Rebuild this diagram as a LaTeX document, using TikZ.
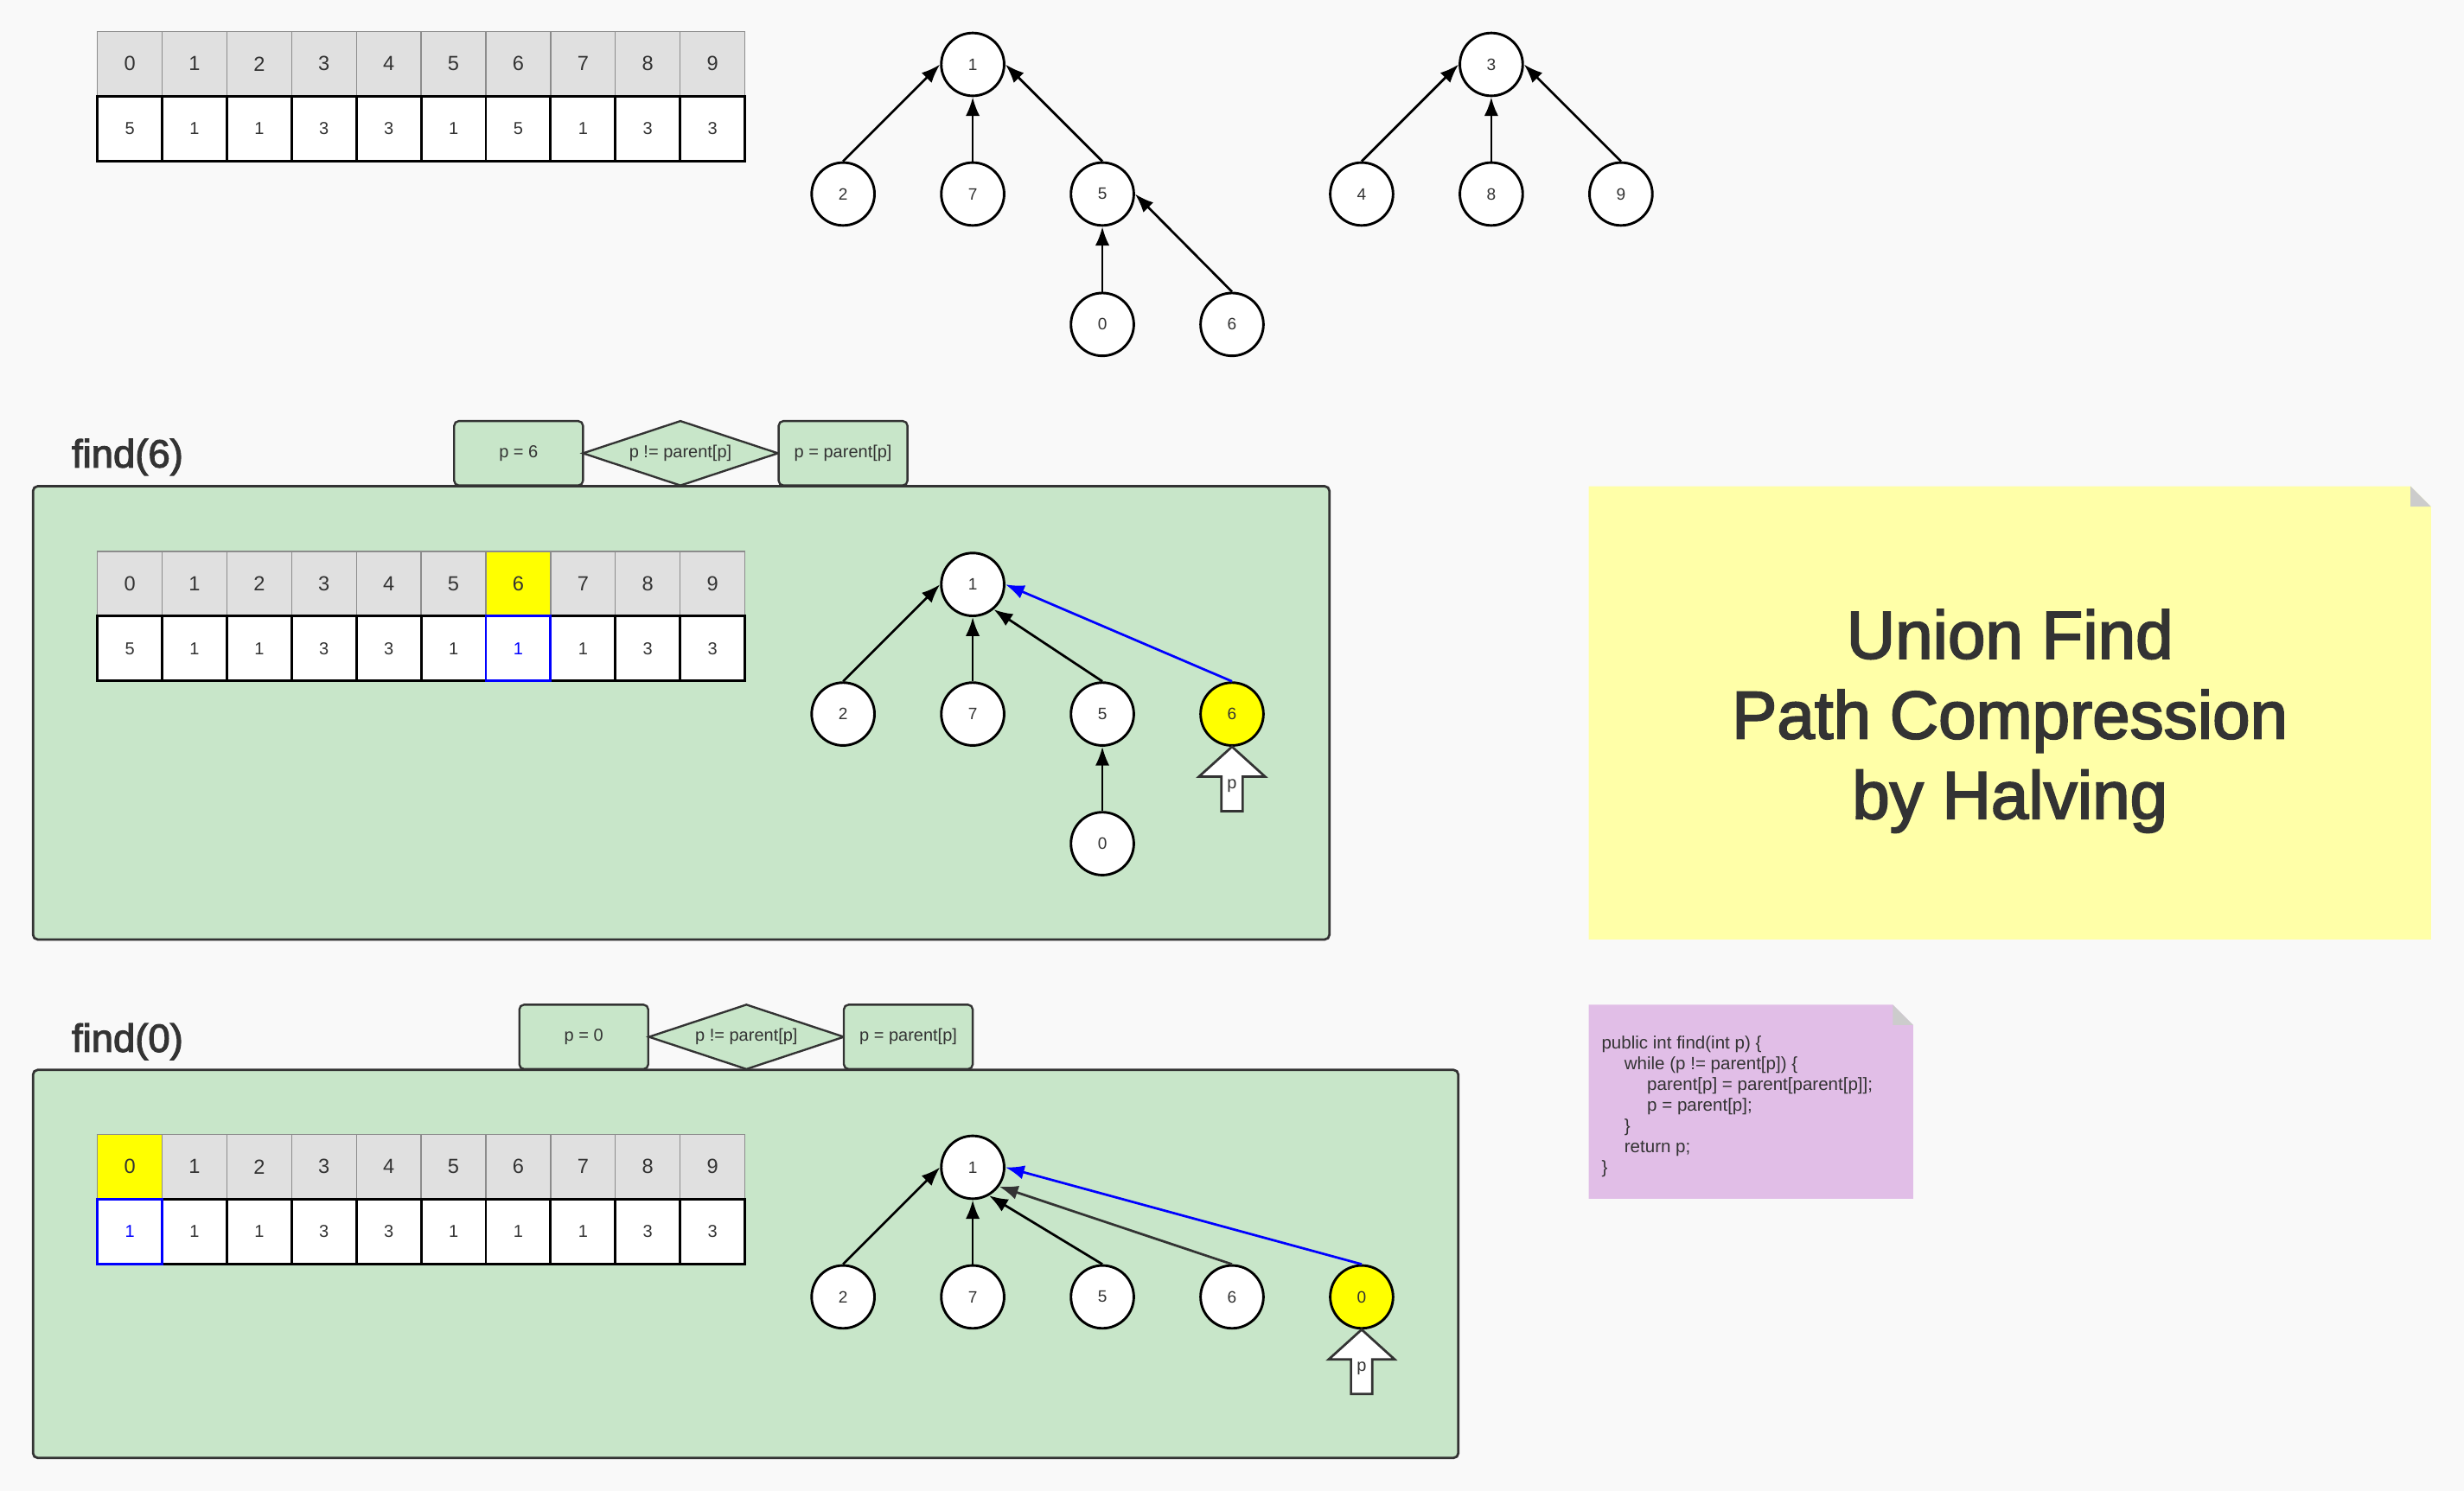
\documentclass[tikz,border=0pt]{standalone}
\usepackage{fontspec}
\setmainfont{Liberation Sans}
\newfontfamily\heavyfont{Liberation Sans}[UprightFeatures={FakeBold=2.5}]
\usetikzlibrary{arrows.meta,shapes.geometric,calc}
\definecolor{bgc}{HTML}{F9F9F9}
\definecolor{txt}{HTML}{333333}
\definecolor{hdr}{HTML}{E0E0E0}
\definecolor{hdrline}{HTML}{8C8C8C}
\definecolor{grn}{HTML}{C8E6C9}
\definecolor{note}{HTML}{FFFFA8}
\definecolor{notep}{HTML}{E1BEE7}
\definecolor{fold}{HTML}{CCCCCC}
\definecolor{hl}{HTML}{FFFF00}
\definecolor{blu}{HTML}{0000FF}
\newcommand\uftable[3]{%
  \foreach \v [count=\k from 0] in {#3} {
    \node[hcell] (#1h\k) at ({82.6+41.2*\k},{#2+20.6}) {\k};
  }
  \foreach \v [count=\k from 0] in {#3} {
    \node[vcell] (#1v\k) at ({82.6+41.2*\k},{#2+61.8}) {\v};
  }}
\begin{document}
\begin{tikzpicture}[x=1pt,y=-1pt,
  hcell/.style={rectangle,draw=hdrline,line width=0.7pt,fill=hdr,minimum width=41.2pt,minimum height=41.2pt,inner sep=0pt,text=txt,font=\fontsize{13}{15}\selectfont},
  vcell/.style={rectangle,draw=black,line width=1.6pt,fill=white,minimum width=41.2pt,minimum height=41.2pt,inner sep=0pt,text=txt,font=\fontsize{11}{13}\selectfont},
  tn/.style={circle,draw=black,line width=1.6pt,fill=white,minimum size=40pt,inner sep=0pt,text=txt,font=\fontsize{10.5}{12}\selectfont},
  hn/.style={tn,fill=hl},
  link/.style={-{Latex[length=12pt,width=9pt]},line width=1.5pt,draw=black},
  bluelink/.style={link,draw=blu},
  graylink/.style={link,draw=txt},
  panel/.style={draw=txt,line width=1.5pt,fill=grn,rounded corners=3pt},
  stepbox/.style={rectangle,draw=txt,line width=1.3pt,fill=grn,rounded corners=3pt,minimum width=82pt,minimum height=41pt,inner sep=0pt,text=txt,font=\fontsize{11}{13}\selectfont},
  condshape/.style={draw=txt,line width=1.3pt,fill=grn,line join=miter},
  condtext/.style={inner sep=0pt,text=txt,font=\fontsize{11}{13}\selectfont},
  blockarr/.style={draw=txt,line width=1.5pt,fill=white,line join=miter},
  ptext/.style={inner sep=0pt,text=txt,font=\fontsize{11}{13}\selectfont},
  findlabel/.style={anchor=base west,inner sep=0pt,text=txt,font=\heavyfont\fontsize{25}{28}\selectfont},
]
% background
\fill[bgc] (0,0) rectangle (1568,949);
\useasboundingbox (0,0) rectangle (1568,949);

% ---------- top: initial state ----------
\uftable{a}{20}{5,1,1,3,3,1,5,1,3,3}
\node[tn] (a1) at (619,41) {1};
\node[tn] (a2) at (536.5,123.5) {2};
\node[tn] (a7) at (619,123.5) {7};
\node[tn] (a5) at (701.5,123.5) {5};
\node[tn] (a0) at (701.5,206.5) {0};
\node[tn] (a6) at (784,206.5) {6};
\node[tn] (a3) at (949,41) {3};
\node[tn] (a4) at (866.5,123.5) {4};
\node[tn] (a8) at (949,123.5) {8};
\node[tn] (a9) at (1031.5,123.5) {9};
\draw[link] (a2.north) -- (a1.west);
\draw[link] (a7.north) -- (a1.south);
\draw[link] (a5.north) -- (a1.east);
\draw[link] (a0.north) -- (a5.south);
\draw[link] (a6.north) -- (a5.east);
\draw[link] (a4.north) -- (a3.west);
\draw[link] (a8.north) -- (a3.south);
\draw[link] (a9.north) -- (a3.east);

% ---------- find(6) ----------
\node[findlabel] (f6) at (45.5,297.5) {find(6)};
\draw[panel] (21,309.5) rectangle (846,598);
\node[stepbox] (b6s) at (330,288.5) {p = 6};
\draw[condshape] (371,288.5) -- (433,268) -- (495,288.5) -- (433,309) -- cycle;
\node[condtext] (b6c) at (433,288.5) {p != parent[p]};
\node[stepbox] (b6p) at (536.5,288.5) {p = parent[p]};
\uftable{b}{351}{5,1,1,3,3,1,1,1,3,3}
\node[hcell,fill=hl] (bh6x) at (bh6) {6};
\node[vcell,draw=blu,text=blu] (bv6x) at (bv6) {1};
\node[tn] (b1) at (619,372) {1};
\node[tn] (b2) at (536.5,454.5) {2};
\node[tn] (b7) at (619,454.5) {7};
\node[tn] (b5) at (701.5,454.5) {5};
\node[hn] (b6) at (784,454.5) {6};
\node[tn] (b0) at (701.5,537) {0};
\draw[link] (b2.north) -- (b1.west);
\draw[link] (b7.north) -- (b1.south);
\draw[link] (b5.north) -- (b1.-50);
\draw[link] (b0.north) -- (b5.south);
\draw[bluelink] (b6.north) -- (b1.east);
\draw[blockarr] (b6.south) -- ++(21,19) -- ++(-14.2,0) -- ++(0,22) -- ++(-13.6,0) -- ++(0,-22) -- ++(-14.2,0) -- cycle;
\node[ptext] (bp) at ($(b6.south)+(0,25)$) {p};

% ---------- find(0) ----------
\node[findlabel] (f0) at (45.5,669.5) {find(0)};
\draw[panel] (21,681) rectangle (928,928);
\node[stepbox] (c0s) at (371.5,660) {p = 0};
\draw[condshape] (413,660) -- (475,639.5) -- (537,660) -- (475,680.5) -- cycle;
\node[condtext] (c0c) at (475,660) {p != parent[p]};
\node[stepbox] (c0p) at (578,660) {p = parent[p]};
\uftable{c}{722}{1,1,1,3,3,1,1,1,3,3}
\node[hcell,fill=hl] (ch0x) at (ch0) {0};
\node[vcell,draw=blu,text=blu] (cv0x) at (cv0) {1};
\node[tn] (c1) at (619,743) {1};
\node[tn] (c2) at (536.5,825.5) {2};
\node[tn] (c7) at (619,825.5) {7};
\node[tn] (c5) at (701.5,825.5) {5};
\node[tn] (c6) at (784,825.5) {6};
\node[hn] (c0) at (866.5,825.5) {0};
\draw[link] (c2.north) -- (c1.west);
\draw[link] (c7.north) -- (c1.south);
\draw[link] (c5.north) -- (c1.-60);
\draw[graylink] (c6.north) -- (c1.-36);
\draw[bluelink] (c0.north) -- (c1.east);
\draw[blockarr] (c0.south) -- ++(21,19) -- ++(-14.2,0) -- ++(0,22) -- ++(-13.6,0) -- ++(0,-22) -- ++(-14.2,0) -- cycle;
\node[ptext] (cp) at ($(c0.south)+(0,25)$) {p};

% ---------- title note ----------
\fill[note] (1011,309.5) -- (1534,309.5) -- (1547,322.5) -- (1547,598) -- (1011,598) -- cycle;
\fill[fold] (1534,309.5) -- (1534,322.5) -- (1547,322.5) -- cycle;
\node[align=center,inner sep=0pt,text=txt,font=\heavyfont\fontsize{43}{51}\selectfont] (title) at (1279,459) {Union Find\\Path Compression\\by Halving};

% ---------- code note ----------
\fill[notep] (1011,639.5) -- (1204.5,639.5) -- (1217.5,652.5) -- (1217.5,763) -- (1011,763) -- cycle;
\fill[fold] (1204.5,639.5) -- (1204.5,652.5) -- (1217.5,652.5) -- cycle;
\node[anchor=north west,inner sep=0pt,align=left,text=txt,font=\fontsize{11.3}{13.2}\selectfont] (code) at (1019,659.5)
{public int find(int p) \{\\
\hspace*{14.5pt}while (p != parent[p]) \{\\
\hspace*{29pt}parent[p] = parent[parent[p]];\\
\hspace*{29pt}p = parent[p];\\
\hspace*{14.5pt}\}\\
\hspace*{14.5pt}return p;\\
\}};
\end{tikzpicture}
\end{document}
